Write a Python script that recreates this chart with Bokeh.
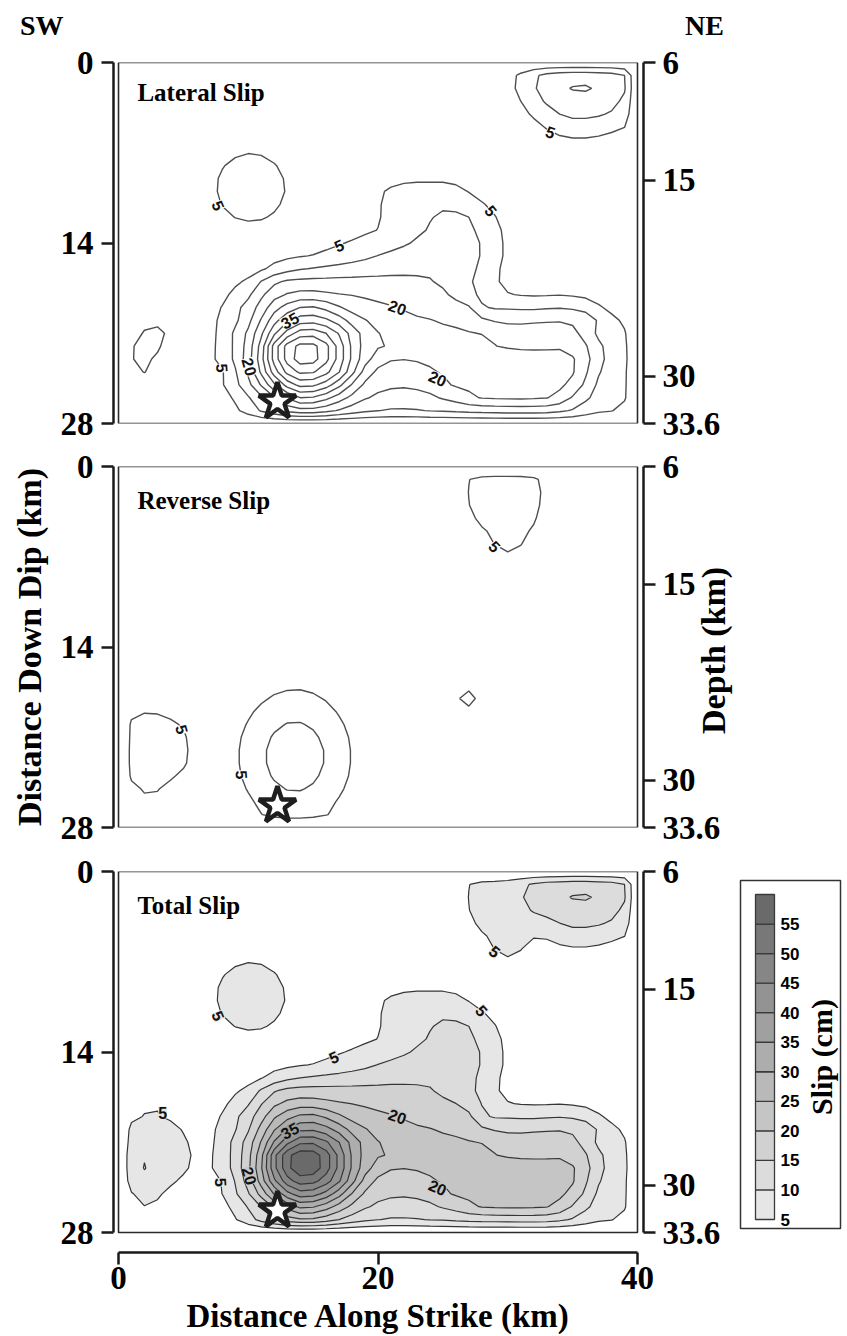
import math
import numpy as np
from bokeh.plotting import figure
from bokeh.models import Range1d, LinearAxis, FixedTicker, Label, NumeralTickFormatter, Div
from bokeh.layouts import column, row
from bokeh.embed import file_html
from bokeh.resources import INLINE
from bokeh.core.properties import value

# ------------------------------------------------------------------ data
strike_nodes = list(range(41))   # km along strike (grid columns)
dip_nodes = list(range(29))      # km down dip (grid rows)

# slip (cm); each row: list of (first column, values)
lateral_rows = [
    [],
    [(30, [3, 6, 9, 11.5, 12.5, 13, 13, 12.5, 12, 10])],
    [(30, [3, 6.5, 9.5, 12, 14, 15.3, 15.6, 14.3, 12.5, 10.5])],
    [(30, [2, 5, 8.5, 10.5, 12.5, 13, 13, 12.5, 11.5, 9])],
    [(30, [1, 3, 6, 8.5, 10, 11, 11, 10.5, 9.5, 7.5])],
    [(31, [1, 3, 5.5, 7, 8, 8, 7.5, 6.5, 5.1])],
    [(8, [1, 2, 2.5, 2.5, 2, 1]), (33, [2.5, 4, 4.5, 4.5, 4, 3, 2])],
    [(7, [1, 3.2, 4.4, 4.9, 4.7, 3.7, 2, 0.5]), (34, [1.5, 1.5, 1.5, 1.5, 1])],
    [(6, [1, 2.9, 4.75, 6, 6.5, 6.2, 5.3, 3.7, 1.5])],
    [(6, [1.5, 3.7, 5.6, 6.8, 7.3, 7.1, 6.2, 4.5, 2]), (20, [1.5, 3, 3.8, 4, 4, 4, 3.6, 2.5, 1.5])],
    [(6, [1.5, 3.8, 5.75, 6.95, 7.45, 7.25, 6.3, 4.7, 2]), (19, [2, 4, 6, 7, 7.5, 7.5, 7.5, 6.5, 4.8, 3, 1.5])],
    [(6, [1, 3.1, 5.2, 6.4, 6.9, 6.7, 5.75, 4.1, 2]), (18, [1, 2.5, 4.5, 6.5, 8, 9, 9.5, 9.5, 9, 7.5, 5.5, 3.5, 1.5])],
    [(7, [1.5, 3.85, 5.1, 5.6, 5.4, 4.5, 2.9, 1.5, 1, 1, 1.5, 2.5, 3.5, 4.6, 6.5, 8, 9, 9.8, 10.5, 10.7, 10, 8, 5.3, 2.5, 1])],
    [(8, [1.5, 3.1, 3.6, 3.4, 2.4, 2, 2, 2, 2.2, 2.5, 3.3, 4.2, 5.1, 6.5, 8, 9.3, 10.3, 11, 11.2, 10.8, 9, 6.5, 3.5, 1.5])],
    [(9, [1, 1.5, 1.5, 1.7, 2, 2.5, 3, 3.8, 4.6, 5.5, 6.5, 7.6, 8.7, 9.5, 10.5, 11.3, 11.8, 12, 11.5, 9.7, 7, 3.8, 1.5])],
    [(9, [1, 1.6, 2.4, 3.4, 4, 4.7, 5.2, 6, 7, 8, 9, 10.1, 10.8, 11.5, 12, 12.5, 13, 13, 12.2, 9.6, 7, 3.8, 1.5])],
    [(8, [1, 1.6, 2.7, 4.3, 6.3, 8.3, 9.6, 10.3, 11, 11.5, 12, 12.5, 13, 13.5, 14, 14.3, 14.5, 14.3, 13.8, 12, 8.5, 6, 3.5, 1.5])],
    [(7, [1, 2, 4, 6, 10.2, 14, 15.8, 16.3, 16.5, 16.5, 16.6, 16.6, 16.6, 16.5, 16.4, 16, 15.6, 15.2, 14.5, 13.2,
          10.8, 8, 5.8, 3.5, 2.5, 2, 2, 2, 1.5, 1])],
    [(2, [2, 2.5, 2]),
     (6, [1, 1.5, 3.5, 6.5, 9, 14, 18, 20.4, 21.5, 21.5, 20.8, 20.2, 19.8, 19.4, 19, 18.4, 17.6, 16.8, 16, 15.5,
          14.3, 11.5, 9, 7, 5.3, 4.7, 4.5, 4.6, 4.8, 4.4, 3.7, 2.5, 1.5])],
    [(2, [2, 2.5, 1.5, 0.5, 1.2, 2.5, 5.3, 8.5, 12, 17, 23, 27, 30, 30.5, 28.5, 25.5, 23, 21.5, 20.8, 20.3, 19.6,
          18.8, 18, 17, 16, 15.5, 10.5, 9.5, 9.5, 9.3, 9.2, 9.5, 9.7, 9.3, 8.5, 5.8, 3.5, 2])],
    [(1, [2.5, 4, 4.4, 3, 0.8, 1.5, 3.5, 6, 9, 13.5, 20.5, 28, 34, 37.5, 38, 36, 32.5, 28, 25.3, 23, 22, 21.2,
          20.6, 20.2, 19.5, 19, 18, 16, 14.5, 13.5, 13.5, 14, 14.3, 14.5, 14, 12.5, 9.5, 6.5, 4])],
    [(1, [3.5, 5.3, 5.6, 4.5, 1.2, 2, 3.6, 6.3, 11, 16, 24, 34, 42, 47.5, 48, 45, 39.5, 33, 28, 25.2, 23.5, 22.5,
          22, 21.5, 21.2, 20.8, 20.3, 19.8, 19.4, 19, 18.7, 18.7, 18.8, 18.7, 16.5, 13, 9, 7, 5.5])],
    [(1, [4.8, 5.8, 5.4, 3.8, 1.5, 2.5, 3.7, 6.5, 11, 17, 27, 42, 52, 56.5, 56.5, 51.5, 43, 34, 28, 25.5, 24.5,
          23.5, 23.2, 22.8, 22.5, 22.3, 22, 21.8, 20.1, 19.5, 19, 18.8, 19, 19.3, 18, 15.5, 11, 8, 6])],
    [(1, [4.9, 5.5, 4.6, 2.5, 1.2, 2.2, 3.8, 6.5, 11, 17.5, 28, 42, 52, 57.5, 57, 51.5, 43, 34, 27, 22.5, 20.3,
          20.1, 20.3, 20.6, 21, 21.4, 21.8, 22, 22.3, 22.5, 22.7, 22.8, 22.5, 22, 20.5, 17, 11.2, 8.5, 6.2])],
    [(1, [4.2, 5.1, 3.8, 1.5, 0.8, 1.8, 3.2, 4.6, 9.5, 16, 26, 37.5, 46.5, 51, 50.5, 46.5, 40.2, 31.5, 23, 18.8,
          18.2, 18, 18.8, 19.6, 20.3, 20.8, 21.3, 21.7, 22, 22.2, 22.5, 22.6, 22.3, 21.5, 20.5, 15.7, 10.5, 7.5, 5.8])],
    [(1, [2.5, 3.5, 2, 0, 0, 1, 2.5, 4.6, 8.6, 13.5, 20.5, 29, 37, 41.5, 41, 37.5, 31.5, 24.5, 19, 16.5, 15.8,
          15.6, 16, 17, 19.2, 20.5, 21, 21.3, 21.8, 22, 22.2, 22.2, 22, 21, 18.5, 14, 9, 7.5, 5.7])],
    [(1, [2, 2.5, 1, 0, 0, 0, 1.2, 3, 5.8, 9.5, 14, 19.5, 25.5, 30, 29.5, 26.5, 22.5, 18.5, 15.5, 14, 13.2, 13,
          13.3, 14, 15.5, 17, 19, 20.3, 20.6, 20.8, 20.8, 20.6, 20.2, 18.5, 14.5, 11, 8, 6.2, 5.5])],
    [(2, [0.5]),
     (8, [1.5, 4, 7, 10.5, 13.5, 16.5, 18, 18, 16.5, 14.5, 12.5, 11, 10.1, 9.5, 9.5, 9.7, 10.2, 10.5, 11, 11.5,
          11.8, 12, 12.2, 12.3, 12.3, 12, 11, 9.5, 7.5, 5.8, 5.2, 3.5])],
    [],
]

reverse_rows = [
    [],
    [(26, [2, 4.9, 6.2, 6.5, 6.5, 6.4, 5.8, 3.5])],
    [(26, [2.2, 5.1, 6.8, 7.2, 7.3, 7.1, 6.2, 4])],
    [(26, [2, 4.9, 6.7, 7.3, 7.4, 7.2, 6, 3.8])],
    [(26, [1.5, 4, 6, 6.8, 7, 6.8, 5.5, 3])],
    [(27, [2.5, 4.5, 5.8, 6.2, 5.9, 4.5, 2])],
    [(28, [3, 5.1, 5.8, 5.2, 3])],
    [(28, [1.5, 3, 4.5, 3.5, 1.5])],
    [(29, [1.5, 2, 1.5])],
    [], [], [], [], [], [], [],
    [(8, [0.6, 1, 1.5, 2, 2.5, 2.8, 2.8, 2.6, 2.1, 1.6, 1.1, 0.6])],
    [(8, [0.9, 1.5, 2.3, 3.1, 3.9, 4.3, 4.4, 4, 3.3, 2.4, 1.6, 1]), (26, [2.5, 4.3, 2.5])],
    [(1, [3, 3.8, 3.8, 3, 1.5]), (8, [1.2, 2.1, 3.2, 4.4, 5.5, 6.2, 6.3, 5.7, 4.7, 3.5, 2.3, 1.4, 0.8]),
     (26, [4.6, 6, 4])],
    [(1, [4, 4.8, 4.7, 4, 2]), (8, [1.7, 2.8, 4.3, 5.9, 7.4, 8.2, 8.3, 7.6, 6.2, 4.6, 3.1, 1.9, 1]),
     (26, [2.5, 4.3, 2.5])],
    [(1, [5.6, 6.3, 6.2, 5.7, 4.6, 2, 1.5, 2.1, 3.5, 5.3, 7.3, 9.1, 10.2, 10.3, 9.4, 7.7, 5.7, 3.8, 2.3, 1.3])],
    [(1, [5.8, 6.8, 6.7, 6.2, 5.6, 3, 1.8, 2.4, 4, 6.2, 8.5, 10.5, 11.8, 11.9, 10.8, 8.9, 6.6, 4.4, 2.7, 1.5])],
    [(1, [6, 7.8, 7, 6.3, 5.8, 3.5, 2.2, 2.6, 4.3, 6.6, 9.1, 11.3, 12.7, 12.8, 11.7, 9.6, 7.1, 4.7, 2.9, 1.6])],
    [(1, [6, 8.6, 6.8, 6.1, 5.6, 3.2, 2.2, 2.6, 4.3, 6.6, 9.1, 11.3, 12.7, 12.8, 11.7, 9.6, 7.1, 4.7, 2.9, 1.6])],
    [(1, [5.6, 7, 6.2, 5.5, 4.2, 2, 1.8, 2.4, 4, 6.2, 8.5, 10.5, 11.8, 11.9, 10.8, 8.9, 6.6, 4.4, 2.7, 1.5])],
    [(1, [4, 5.4, 5.2, 4, 2.2, 1, 1.2, 2.1, 3.5, 5.3, 7.3, 9.1, 10.2, 10.3, 9.4, 7.7, 5.7, 3.8, 2.3, 1.3])],
    [(1, [3, 4.2, 4.2, 3, 1, 0.5, 0.8, 1.7, 2.8, 4.3, 5.9, 7.4, 8.2, 8.3, 7.6, 6.2, 4.6, 3.1, 1.9, 1])],
    [(1, [1.5, 2, 2, 1, 0, 0, 0.5, 1.4, 2.4, 3.6, 4.9, 6.1, 6.9, 6.9, 6.3, 5.2, 3.9, 2.6, 1.6, 0.8])],
    [],
]

slip_levels = [5, 10, 15, 20, 25, 30, 35, 40, 45, 50, 55, 60]
slip_palette = ["#e6e6e6", "#dcdcdc", "#d1d1d1", "#c5c5c5", "#b9b9b9", "#adadad",
                "#a0a0a0", "#939393", "#868686", "#787878", "#6a6a6a"]

hypo_strike = [12.25]
hypo_dip = [26.3]

fault_length = 40
fault_width = 28
depth_top = 6.0
depth_bottom = 33.6
dip_ticks = [0, 14, 28]
depth_ticks = [6, 15, 30, 33.6]
strike_ticks = [0, 20, 40]

panel_titles = ["Lateral Slip", "Reverse Slip", "Total Slip"]
side_labels = ["SW", "NE"]

lat_lbl_x = [17.0, 7.7, 8.0, 10.1, 13.2, 21.5, 24.6, 28.7, 33.3]
lat_lbl_y = [14.2, 11.1, 23.7, 23.6, 20.0, 19.0, 24.5, 11.5, 5.4]
lat_lbl_text = ["5", "5", "5", "20", "35", "20", "20", "5", "5"]
lat_lbl_angle = [0.4, -1.15, -1.5, -1.3, 0.5, -0.35, -0.4, -0.9, -0.35]

rev_lbl_x = [4.9, 9.5, 29.0]
rev_lbl_y = [20.4, 23.9, 6.2]
rev_lbl_text = ["5", "5", "5"]
rev_lbl_angle = [-1.3, -1.5, -0.8]

tot_lbl_x = [7.7, 16.6, 3.4, 7.9, 10.1, 13.2, 21.5, 24.6, 28.0, 29.0]
tot_lbl_y = [11.2, 14.4, 18.7, 24.1, 23.6, 20.1, 19.0, 24.5, 10.8, 6.2]
tot_lbl_text = ["5", "5", "5", "5", "20", "35", "20", "20", "5", "5"]
tot_lbl_angle = [-1.15, 0.4, 0.0, -1.5, -1.3, 0.5, -0.35, -0.4, -0.85, -0.7]


# ------------------------------------------------------------------ grids
def build(rows):
    g = np.zeros((len(dip_nodes), len(strike_nodes)))
    for i, segs in enumerate(rows):
        for start, vals in segs:
            g[i, start:start + len(vals)] = vals
    return g


lateral = build(lateral_rows)
reverse = build(reverse_rows)
total = np.sqrt(lateral ** 2 + reverse ** 2)
GX, GY = np.meshgrid(np.array(strike_nodes, dtype=float), np.array(dip_nodes, dtype=float))

# ------------------------------------------------------------------ style
SERIF = "Liberation Serif"
SANS = "Liberation Sans"
KM_PX = 519.0 / fault_length          # horizontal scale, px per km
DIP_PX = 361.0 / fault_width          # vertical scale, px per km
X_RANGE = (-5.0 / KM_PX, fault_length + 6.0 / KM_PX)
FRAME_W = 530
FRAME_H = 361
LEFT_B = 113
RIGHT_B = 92
EXTRA_PX = 20           # gap between the total-slip box and the strike axis
BOTTOM_B = 84


def style_axis(a, size="33px"):
    a.axis_line_width = 2.5
    a.axis_line_color = "#1a1a1a"
    a.major_tick_line_width = 2.5
    a.major_tick_line_color = "#1a1a1a"
    a.major_tick_out = 12
    a.major_tick_in = 0
    a.minor_tick_line_color = None
    a.major_label_text_font = SERIF
    a.major_label_text_font_style = "bold"
    a.major_label_text_font_size = size
    a.major_label_text_color = "black"
    a.major_label_standoff = 8
    a.axis_label_text_font = SERIF
    a.axis_label_text_font_style = "bold"
    a.axis_label_text_font_size = "34px"
    a.axis_label_text_color = "black"


def make_panel(idx, z, filled, lx, ly, lt, la, top, bottom, extra_px=0, title_y=2.5):
    y_end = fault_width + extra_px / DIP_PX
    p = figure(frame_width=FRAME_W, frame_height=FRAME_H + extra_px,
               x_range=Range1d(*X_RANGE), y_range=Range1d(y_end, 0),
               x_axis_location=None, y_axis_location=None,
               toolbar_location=None, output_backend="svg",
               min_border_left=LEFT_B, min_border_right=RIGHT_B,
               min_border_top=top, min_border_bottom=bottom)
    p.outline_line_color = None
    p.background_fill_color = "white"
    p.border_fill_color = "white"
    p.grid.visible = False

    if filled:
        p.contour(GX, GY, z, levels=slip_levels, fill_color=slip_palette,
                  line_color="#363636", line_width=1.2)
        bg = [slip_palette[(int(t) - 5) // 5] for t in lt]
    else:
        p.contour(GX, GY, z, levels=slip_levels[:-1], line_color="#4f4f4f", line_width=1.4)
        bg = ["white"] * len(lt)

    p.text(x=lx, y=ly, text=lt, angle=la, text_font=value(SANS), text_font_style="bold",
           text_font_size="16px", text_color="#111111", text_align="center", text_baseline="middle",
           background_fill_color=bg)

    p.quad(left=[0], right=[fault_length], top=[0], bottom=[fault_width],
           fill_color=None, line_color="#2a2a2a", line_width=1.6)

    p.scatter(x=hypo_strike, y=hypo_dip, marker="star", size=39,
              fill_color="white", line_color="#1e1e1e", line_width=4.5)

    p.add_layout(Label(x=1.46, y=title_y, text=panel_titles[idx], text_font=SERIF,
                       text_font_style="bold", text_font_size="25px",
                       text_baseline="middle", text_color="black"))

    la_ax = LinearAxis(ticker=FixedTicker(ticks=dip_ticks), bounds=(0, fault_width))
    style_axis(la_ax)
    p.add_layout(la_ax, "left")

    dtop = depth_top + y_end * (depth_bottom - depth_top) / fault_width
    p.extra_y_ranges = {"depth": Range1d(dtop, depth_top)}
    ra = LinearAxis(y_range_name="depth", ticker=FixedTicker(ticks=depth_ticks),
                    bounds=(depth_top, depth_bottom), formatter=NumeralTickFormatter(format="0.[0]"))
    style_axis(ra)
    ra.major_label_standoff = 7
    p.add_layout(ra, "right")
    return p, la_ax, ra


# header strip carrying the SW / NE orientation marks
hdr_w = LEFT_B + FRAME_W + RIGHT_B
span_css = ("position:absolute;top:11px;font-family:'Liberation Serif';font-weight:bold;"
            "font-size:28px;line-height:30px;color:black;")
header = Div(
    text=('<div style="position:relative;width:%dpx;height:40px;margin:0;padding:0;">'
          '<span style="%sleft:20px;">%s</span>'
          '<span style="%sleft:685px;">%s</span></div>')
    % (hdr_w, span_css, side_labels[0], span_css, side_labels[1]),
    width=hdr_w, height=40, margin=(0, 0, 0, 0))

p1, _, _ = make_panel(0, lateral, False, lat_lbl_x, lat_lbl_y, lat_lbl_text, lat_lbl_angle,
                      top=22, bottom=21, title_y=2.35)

p2, l2, r2 = make_panel(1, reverse, False, rev_lbl_x, rev_lbl_y, rev_lbl_text, rev_lbl_angle,
                        top=22, bottom=22, title_y=2.6)
l2.axis_label = "Distance Down Dip (km)"
l2.axis_label_standoff = 10

# "Depth (km)" carried by a bare companion axis on the right, reading bottom-to-top
depth_title = "Depth (km)"
depth_lbl_ax = LinearAxis(y_range_name="depth", ticker=FixedTicker(ticks=[]), bounds=(depth_top, depth_bottom))
style_axis(depth_lbl_ax)
depth_lbl_ax.axis_line_color = None
depth_lbl_ax.major_tick_line_color = None
depth_lbl_ax.major_tick_out = 0
depth_lbl_ax.major_label_standoff = 0
depth_lbl_ax.axis_label_standoff = -10
props = depth_lbl_ax.properties()
if "axis_label_orientation" in props:
    depth_lbl_ax.axis_label_orientation = math.pi / 2
if "axis_label_align" in props:
    # anchor at the lower end of the axis; the lead-in lifts the words to their place
    depth_lbl_ax.axis_label_align = "end"
    depth_lbl_ax.axis_label = "\u00a0" * 11 + depth_title
else:
    depth_lbl_ax.axis_label = depth_title
p2.add_layout(depth_lbl_ax, "right")

p3, _, _ = make_panel(2, total, True, tot_lbl_x, tot_lbl_y, tot_lbl_text, tot_lbl_angle,
                      top=22, bottom=BOTTOM_B, extra_px=EXTRA_PX, title_y=2.6)
bx = LinearAxis(ticker=FixedTicker(ticks=strike_ticks), bounds=(0, fault_length),
                axis_label="Distance Along Strike (km)")
style_axis(bx, size="33px")
bx.major_tick_out = 12
bx.major_label_standoff = 2
bx.axis_label_standoff = 6
bx.axis_label_text_font_size = "33px"
p3.add_layout(bx, "below")

# ------------------------------------------------------------------ colour bar
# frame shares the total-slip panel's height so the row keeps both aligned
cb_px = 325.0 / (slip_levels[-1] - slip_levels[0])
cb_frame_h = FRAME_H + EXTRA_PX
pcb = figure(frame_width=104, frame_height=cb_frame_h, x_range=Range1d(0, 104),
             y_range=Range1d(slip_levels[0] - 33.0 / cb_px, slip_levels[-1] + 23.0 / cb_px),
             x_axis_location=None, y_axis_location=None, toolbar_location=None,
             output_backend="svg", min_border_left=3, min_border_right=1,
             min_border_top=22, min_border_bottom=BOTTOM_B)
pcb.grid.visible = False
pcb.outline_line_color = None
pcb.quad(left=[2], right=[102], bottom=[slip_levels[0] - 9.0 / cb_px], top=[slip_levels[-1] + 14.0 / cb_px],
         fill_color=None, line_color="#333333", line_width=1.5)
pcb.quad(left=17, right=36, bottom=slip_levels[:-1], top=slip_levels[1:],
         fill_color=slip_palette, line_color="#3a3a3a", line_width=1.3)
pcb.text(x=42, y=slip_levels[:-1], text=[str(v) for v in slip_levels[:-1]],
         text_font=value(SANS), text_font_style="bold", text_font_size="17px",
         text_baseline="middle", text_align="left", text_color="black")
pcb.text(x=[83], y=[(slip_levels[0] + slip_levels[-1]) / 2.0], text=["Slip (cm)"], angle=np.pi / 2,
         text_font=value(SERIF), text_font_style="bold", text_font_size="30px",
         text_baseline="middle", text_align="center", text_color="black")

layout = column(header, p1, p2, row(p3, pcb))
open("out.html", "w").write(file_html(layout, INLINE, title="Slip distribution"))
